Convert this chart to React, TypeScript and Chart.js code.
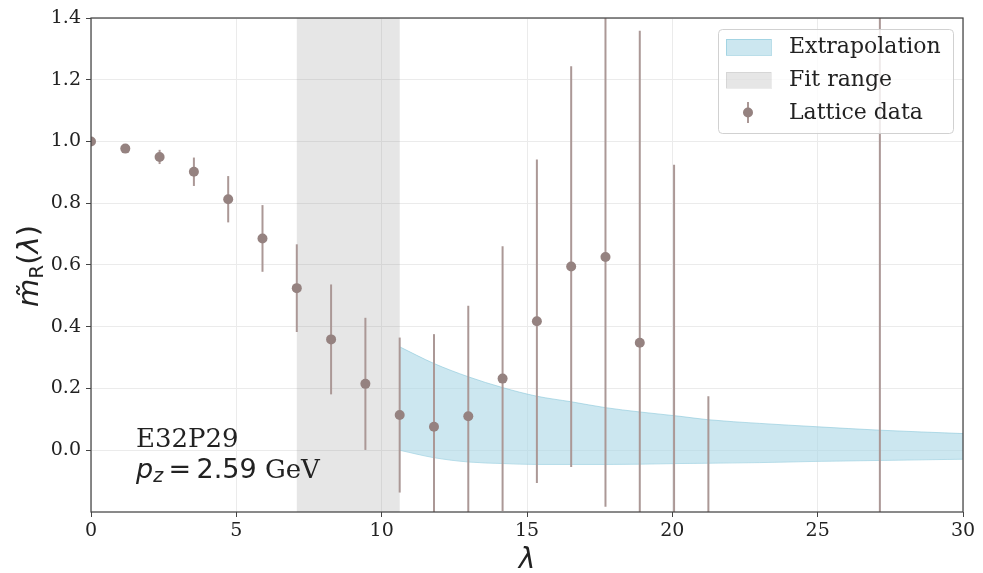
import React, { useEffect, useRef } from 'react';
import { Chart, registerables } from 'chart.js';
Chart.register(...registerables);

// Lattice data
const lambdaVals = [0, 1.18, 2.36, 3.54, 4.72, 5.9, 7.08, 8.26, 9.44, 10.62, 11.8, 12.98, 14.16, 15.34, 16.52, 17.7, 18.88, 20.06, 21.24, 27.14];
const meanVals = [1.0, 0.977, 0.95, 0.902, 0.813, 0.686, 0.525, 0.359, 0.215, 0.114, 0.076, 0.11, 0.232, 0.418, 0.595, 0.626, 0.348, -0.35, -0.45, -0.4];
const errVals = [0.004, 0.008, 0.023, 0.046, 0.075, 0.108, 0.142, 0.178, 0.214, 0.251, 0.3, 0.358, 0.429, 0.524, 0.649, 0.809, 1.011, 1.275, 0.625, 2.0];

// Extrapolation band
const bandX = [10.62, 11.8, 12.98, 14.16, 15.34, 16.52, 17.7, 18.88, 20.26, 21.22, 23.0, 25.0, 27.14, 30.0];
const bandUpper = [0.335, 0.281, 0.238, 0.203, 0.175, 0.157, 0.138, 0.124, 0.11, 0.099, 0.087, 0.076, 0.065, 0.054];
const bandLower = [0.0, -0.024, -0.038, -0.043, -0.046, -0.046, -0.046, -0.045, -0.043, -0.042, -0.04, -0.036, -0.033, -0.029];

// Fit range
const fitStart = 7.08;
const fitEnd = 10.62;

// Axis ticks
const xTicks = [0, 5, 10, 15, 20, 25, 30];
const yTicks = [0.0, 0.2, 0.4, 0.6, 0.8, 1.0, 1.2, 1.4];

const SERIF = '"DejaVu Serif", serif';
const SANS = '"DejaVu Sans", sans-serif';
const BAND_FILL = 'rgba(173,216,230,0.62)';
const BAND_EDGE = 'rgba(130,195,215,0.55)';
const FIT_FILL = 'rgba(128,128,128,0.2)';
const BAR_COLOR = '#ab9896';
const MARK_COLOR = '#958280';
const TEXT = '#222222';

type Run = { text: string; font: string; dy?: number };

function drawRuns(ctx: CanvasRenderingContext2D, runs: Run[], x: number, y: number, center: boolean) {
  let total = 0;
  const widths = runs.map((r) => {
    ctx.font = r.font;
    const w = ctx.measureText(r.text).width;
    total += w;
    return w;
  });
  let cx = center ? x - total / 2 : x;
  runs.forEach((r, i) => {
    ctx.font = r.font;
    ctx.fillText(r.text, cx, y + (r.dy || 0));
    cx += widths[i];
  });
}

const fitRangePlugin = {
  id: 'fitRange',
  beforeDatasetsDraw(chart: any) {
    const { ctx, chartArea } = chart;
    const xs = chart.scales.x;
    const x1 = xs.getPixelForValue(fitStart);
    const x2 = xs.getPixelForValue(fitEnd);
    ctx.save();
    ctx.fillStyle = FIT_FILL;
    ctx.fillRect(x1, chartArea.top, x2 - x1, chartArea.bottom - chartArea.top);
    ctx.restore();
  },
};

const errorBarPlugin = {
  id: 'errorBars',
  beforeDatasetDraw(chart: any, args: any) {
    if (args.index !== 2) return;
    const { ctx, chartArea } = chart;
    const xs = chart.scales.x;
    const ys = chart.scales.y;
    ctx.save();
    ctx.beginPath();
    ctx.rect(chartArea.left, chartArea.top, chartArea.right - chartArea.left, chartArea.bottom - chartArea.top);
    ctx.clip();
    ctx.strokeStyle = BAR_COLOR;
    ctx.lineWidth = 2;
    lambdaVals.forEach((lx, i) => {
      const px = xs.getPixelForValue(lx);
      const y1 = ys.getPixelForValue(meanVals[i] - errVals[i]);
      const y2 = ys.getPixelForValue(meanVals[i] + errVals[i]);
      ctx.beginPath();
      ctx.moveTo(px, y1);
      ctx.lineTo(px, y2);
      ctx.stroke();
    });
    ctx.restore();
  },
};

const decorPlugin = {
  id: 'decor',
  afterDraw(chart: any) {
    const { ctx, chartArea } = chart;
    const { left, right, top, bottom } = chartArea;
    ctx.save();
    // spines
    ctx.strokeStyle = '#444444';
    ctx.lineWidth = 1.25;
    ctx.strokeRect(left, top, right - left, bottom - top);

    // legend
    const bx = 718, by = 29, bw = 235, bh = 104;
    ctx.beginPath();
    (ctx as any).roundRect(bx + 0.5, by + 0.5, bw, bh, 4);
    ctx.fillStyle = 'rgba(255,255,255,0.8)';
    ctx.fill();
    ctx.strokeStyle = 'rgba(204,204,204,0.9)';
    ctx.lineWidth = 1;
    ctx.stroke();

    ctx.fillStyle = BAND_FILL;
    ctx.fillRect(726, 39, 45, 16);
    ctx.strokeStyle = BAND_EDGE;
    ctx.strokeRect(726.5, 39.5, 45, 16);
    ctx.fillStyle = FIT_FILL;
    ctx.fillRect(726, 72, 45, 16);
    ctx.strokeStyle = 'rgba(128,128,128,0.15)';
    ctx.strokeRect(726.5, 72.5, 45, 16);

    ctx.strokeStyle = BAR_COLOR;
    ctx.lineWidth = 2;
    ctx.beginPath();
    ctx.moveTo(748, 102);
    ctx.lineTo(748, 123);
    ctx.stroke();
    ctx.fillStyle = MARK_COLOR;
    ctx.beginPath();
    ctx.arc(748, 112.5, 5, 0, Math.PI * 2);
    ctx.fill();

    ctx.fillStyle = TEXT;
    ctx.textAlign = 'left';
    ctx.textBaseline = 'middle';
    ctx.font = `22px ${SERIF}`;
    ctx.fillText('Extrapolation', 789, 47);
    ctx.fillText('Fit range', 789, 80);
    ctx.fillText('Lattice data', 789, 113);

    // annotation
    ctx.textBaseline = 'alphabetic';
    ctx.font = `26px ${SERIF}`;
    ctx.fillText('E32P29', 136, 447);
    drawRuns(
      ctx,
      [
        { text: 'p', font: `italic 27px ${SANS}` },
        { text: 'z', font: `italic 19px ${SANS}`, dy: 4 },
        { text: '\u2009=\u2009', font: `27px ${SANS}` },
        { text: '2.59', font: `27px ${SANS}` },
        { text: ' GeV', font: `26px ${SERIF}` },
      ],
      136,
      478,
      false
    );

    // x title
    drawRuns(ctx, [{ text: '\u03bb', font: `italic 28px ${SANS}` }], (left + right) / 2, 568, true);

    // y title
    ctx.save();
    ctx.translate(38, 266);
    ctx.rotate(-Math.PI / 2);
    drawRuns(
      ctx,
      [
        { text: 'm\u0303', font: `italic 29px ${SANS}` },
        { text: 'R', font: `20px ${SANS}`, dy: 5 },
        { text: '(', font: `29px ${SANS}` },
        { text: '\u03bb', font: `italic 29px ${SANS}` },
        { text: ')', font: `29px ${SANS}` },
      ],
      0,
      0,
      true
    );
    ctx.restore();
    ctx.restore();
  },
};

export default function App() {
  const ref = useRef<HTMLCanvasElement>(null);
  useEffect(() => {
    document.body.style.margin = '0';
    const canvas = ref.current;
    if (!canvas) return;
    const chart = new Chart(canvas, {
      type: 'scatter',
      data: {
        datasets: [
          {
            type: 'line',
            label: 'Extrapolation upper',
            data: bandX.map((x, i) => ({ x, y: bandUpper[i] })),
            borderColor: BAND_EDGE,
            borderWidth: 1,
            backgroundColor: BAND_FILL,
            fill: '+1',
            pointRadius: 0,
            cubicInterpolationMode: 'monotone',
            clip: 0,
            order: 2,
          } as any,
          {
            type: 'line',
            label: 'Extrapolation lower',
            data: bandX.map((x, i) => ({ x, y: bandLower[i] })),
            borderColor: BAND_EDGE,
            borderWidth: 1,
            fill: false,
            pointRadius: 0,
            cubicInterpolationMode: 'monotone',
            clip: 0,
            order: 2,
          } as any,
          {
            type: 'scatter',
            label: 'Lattice data',
            data: lambdaVals.map((x, i) => ({ x, y: meanVals[i] })),
            backgroundColor: MARK_COLOR,
            borderWidth: 0,
            pointRadius: 5,
            clip: 0,
            order: 0,
          } as any,
        ],
      },
      options: {
        animation: false,
        responsive: false,
        events: [],
        layout: { padding: { left: 0, top: 18, right: 20, bottom: 0 } },
        plugins: { legend: { display: false }, tooltip: { enabled: false } },
        scales: {
          x: {
            type: 'linear',
            min: 0,
            max: 30,
            afterBuildTicks: (s: any) => {
              s.ticks = xTicks.map((v) => ({ value: v }));
            },
            afterFit: (s: any) => {
              s.height = 61;
            },
            ticks: {
              font: { family: SERIF, size: 19 },
              color: TEXT,
              padding: 3,
              maxRotation: 0,
              callback: (v: any) => String(v),
            },
            grid: { color: '#ebebeb', lineWidth: 1, tickColor: '#444444', tickLength: 5 },
            border: { display: false },
          },
          y: {
            type: 'linear',
            min: -0.2,
            max: 1.4,
            afterBuildTicks: (s: any) => {
              s.ticks = yTicks.map((v) => ({ value: v }));
            },
            afterFit: (s: any) => {
              s.width = 91;
            },
            ticks: {
              font: { family: SERIF, size: 19 },
              color: TEXT,
              padding: 5,
              callback: (v: any) => Number(v).toFixed(1),
            },
            grid: { color: '#ebebeb', lineWidth: 1, tickColor: '#444444', tickLength: 5 },
            border: { display: false },
          },
        },
      } as any,
      plugins: [fitRangePlugin, errorBarPlugin, decorPlugin],
    });
    return () => chart.destroy();
  }, []);
  return (
    <div style={{ width: 983, height: 573 }}>
      <canvas ref={ref} width={983} height={573} style={{ display: 'block' }} />
    </div>
  );
}
